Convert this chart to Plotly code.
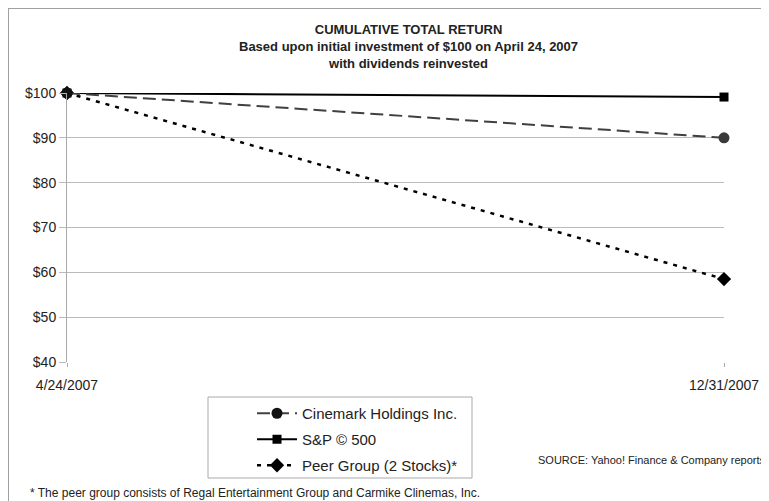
import plotly.graph_objects as go

dates = ["4/24/2007", "12/31/2007"]
cinemark = [100, 90.0]
sp500 = [100, 99.1]
peer = [100, 58.5]
series_names = ["Cinemark Holdings Inc.", "S&P © 500", "Peer Group (2 Stocks)*"]
y_ticks = [40, 50, 60, 70, 80, 90, 100]
y_tick_labels = ["$40", "$50", "$60", "$70", "$80", "$90", "$100"]

# The page is shown with the browser's default 8px body margin, so figure
# coordinates are offset by (8, 8) from the screenshot coordinates.
OFF = 8
W, H = 769, 501
PLOT_X0, PLOT_X1 = 67, 724      # screenshot px
PLOT_Y0, PLOT_Y1 = 93, 362      # screenshot px
L = PLOT_X0 - OFF
R = W - (PLOT_X1 - OFF)
T = PLOT_Y0 - OFF
B = H - (PLOT_Y1 - OFF)
PW, PH = PLOT_X1 - PLOT_X0, PLOT_Y1 - PLOT_Y0


def px(x):
    return (x - PLOT_X0) / PW


def py(y):
    return (PLOT_Y1 - y) / PH


fig = go.Figure()

fig.add_trace(go.Scatter(
    x=dates, y=peer, name=series_names[2], mode="lines+markers",
    line=dict(color="black", width=2.5, dash="4px,6px"),
    marker=dict(symbol="diamond", size=11, color="black"),
    cliponaxis=False, legendgroup="c", legendrank=3))
fig.add_trace(go.Scatter(
    x=dates, y=sp500, name=series_names[1], mode="lines+markers",
    line=dict(color="black", width=2),
    marker=dict(symbol="square", size=9, color="black"),
    cliponaxis=False, legendgroup="b", legendrank=2))
fig.add_trace(go.Scatter(
    x=dates, y=cinemark, name=series_names[0], mode="lines+markers",
    line=dict(color="#404040", width=2, dash="13px,6px"),
    marker=dict(symbol="circle", size=11, color=["#111111", "#3a3a3a"]),
    cliponaxis=False, legendgroup="a", legendrank=1))

fig.update_layout(
    width=W, height=H,
    margin=dict(l=L, r=R, t=T, b=B),
    paper_bgcolor="white", plot_bgcolor="white",
    font=dict(family="Liberation Sans, Arial, sans-serif", color="#222"),
    showlegend=True,
    legend=dict(
        x=px(252), xanchor="left", y=py(397), yanchor="top",
        bgcolor="rgba(0,0,0,0)", borderwidth=0,
        font=dict(size=15, color="#222"),
        traceorder="grouped", tracegroupgap=3.5, itemwidth=40,
    ),
    xaxis=dict(
        type="category", range=[0, 1], showgrid=False, zeroline=False,
        showline=False, ticks="outside", ticklen=4, tickcolor="#aaa",
        tickfont=dict(size=14, color="#222"), ticklabelstandoff=6,
    ),
    yaxis=dict(
        range=[40, 100], tickvals=y_ticks, ticktext=y_tick_labels,
        showgrid=True, gridcolor="#bbb", gridwidth=1, zeroline=False,
        showline=True, linecolor="#aaa", linewidth=1,
        ticks="outside", ticklen=7, tickcolor="#bbb",
        tickfont=dict(size=14, color="#222"), ticklabelstandoff=0,
    ),
    shapes=[
        dict(type="line", xref="paper", yref="paper", x0=px(4), x1=px(780),
             y0=py(8), y1=py(8), line=dict(color="#a0a0a0", width=2)),
        dict(type="line", xref="paper", yref="paper", x0=px(8), x1=px(8),
             y0=py(8), y1=py(520), line=dict(color="#a0a0a0", width=2)),
        dict(type="rect", xref="paper", yref="paper", x0=px(208), x1=px(472),
             y0=py(397), y1=py(478), line=dict(color="#aaa", width=1),
             fillcolor="rgba(0,0,0,0)"),
    ],
    annotations=[
        dict(text="<b>CUMULATIVE TOTAL RETURN<br>Based upon initial investment of $100 on April 24, 2007<br>with dividends reinvested</b>",
             xref="paper", yref="paper", x=px(408), y=py(46),
             xanchor="center", yanchor="middle", showarrow=False,
             font=dict(size=13, color="#222")),
        dict(text="SOURCE: Yahoo! Finance & Company reports",
             xref="paper", yref="paper", x=px(536), y=py(460),
             xanchor="left", yanchor="middle", showarrow=False,
             font=dict(size=11, color="#222")),
        dict(text="* The peer group consists of Regal Entertainment Group and Carmike Clinemas, Inc.",
             xref="paper", yref="paper", x=px(28), y=py(493),
             xanchor="left", yanchor="middle", showarrow=False,
             font=dict(size=12, color="#222")),
    ],
)

fig.write_html("out.html")
